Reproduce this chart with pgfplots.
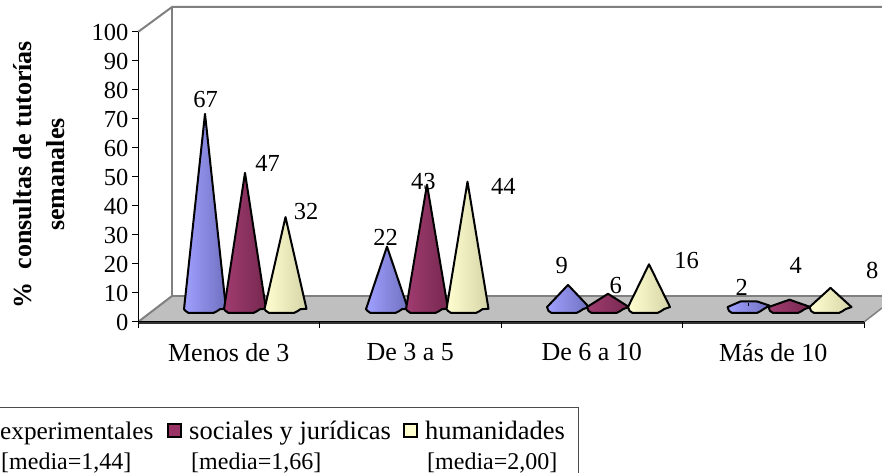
\documentclass[border=0pt]{standalone}
\usepackage{fontspec}
\setmainfont{Liberation Serif}
\usepackage{pgfplots}
\pgfplotsset{compat=1.18}
\definecolor{blueL}{HTML}{A0A0FF}\definecolor{blueM}{HTML}{9090F0}\definecolor{blueR}{HTML}{7070C0}
\definecolor{redL}{HTML}{A03C70}\definecolor{redM}{HTML}{993366}\definecolor{redR}{HTML}{762850}
\definecolor{yelL}{HTML}{FFFFD0}\definecolor{yelM}{HTML}{F4F4C4}\definecolor{yelR}{HTML}{D4D4A8}
\tikzset{
 bl/.style={draw=black,line width=2pt,line join=round,left color=blueL,middle color=blueM,right color=blueR},
 rd/.style={draw=black,line width=2pt,line join=round,left color=redL,middle color=redM,right color=redR},
 yl/.style={draw=black,line width=2pt,line join=round,left color=yelL,middle color=yelM,right color=yelR}}
\newcommand{\txt}{\fontsize{24.5}{24.5}\selectfont}
\newcommand{\leg}{\fontsize{26.5}{26.5}\selectfont}
\newcommand{\lega}{\fontsize{25.3}{25.3}\selectfont}
\newcommand{\legb}{\fontsize{24}{24}\selectfont}
\begin{document}
\begin{tikzpicture}
\useasboundingbox (0,0) rectangle (882pt,473pt);
% pixel canvas: walls, floor, legend
\begin{axis}[at={(0pt,0pt)},anchor=south west,scale only axis,width=882pt,height=473pt,
 xmin=0,xmax=882,ymin=0,ymax=473,y dir=reverse,hide axis,clip=false]
\addplot[draw=none,fill=white,forget plot] coordinates {(138,32)(172,7)(882,7)(882,296)(172,296)(138,322)} --cycle;
\addplot[fill=black!25,draw=none,forget plot] coordinates {(138,322)(172,296)(882,296)(882,308)(864,322)} --cycle;
\addplot[color=black!50,line width=2pt,forget plot] coordinates {(138,32)(172,7)(882,7)};
\addplot[color=black!50,line width=2pt,forget plot] coordinates {(172,7)(172,296)};
\addplot[color=black!50,line width=2pt,forget plot] coordinates {(138,322)(172,296)};
\addplot[color=black!50,line width=2.5pt,forget plot] coordinates {(172,296)(882,296)};
\addplot[color=black!50,line width=1.5pt,forget plot] coordinates {(864,322)(882,308)};
\addplot[color=black!80,line width=3pt,forget plot] coordinates {(138,322.5)(864,322.5)};
% legend
\addplot[color=black!70,line width=1pt,forget plot] coordinates {(-5,407)(578,407)(578,480)};
\addplot[fill=redM,draw=black,line width=1.6pt,forget plot] coordinates {(168,424)(181,424)(181,437)(168,437)} --cycle;
\addplot[fill=yelL,draw=black,line width=1.6pt,forget plot] coordinates {(404,424)(417,424)(417,437)(404,437)} --cycle;
\node[anchor=base west,inner sep=0pt,font=\lega] at (axis cs:0,439) {experimentales};
\node[anchor=base west,inner sep=0pt,font=\leg] at (axis cs:189,439) {sociales y jurídicas};
\node[anchor=base west,inner sep=0pt,font=\leg] at (axis cs:425,439) {humanidades};
\node[anchor=base west,inner sep=0pt,font=\legb] at (axis cs:1,469) {[media=1,44]};
\node[anchor=base west,inner sep=0pt,font=\legb] at (axis cs:191,469) {[media=1,66]};
\node[anchor=base west,inner sep=0pt,font=\legb] at (axis cs:427,469) {[media=2,00]};
\end{axis}
% value axis
\begin{axis}[at={(138pt,151pt)},anchor=south west,scale only axis,width=726pt,height=290pt,
 xmin=0,xmax=4,ymin=0,ymax=100,
 axis x line*=bottom,axis y line*=left,
 axis line style={black,line width=1pt},
 ytick={0,10,...,100},xtick={0,1,2,3,4},xticklabels={},
 extra x ticks={0.5,1.5,2.5,3.5},
 extra x tick labels={Menos de 3,De 3 a 5,De 6 a 10,Más de 10},
 extra x tick style={tick style={draw=none},tick label style={yshift=-12pt,font=\fontsize{26}{26}\selectfont}},
 tick style={black,line width=1pt},
 tick align=outside,major tick length=6pt,
 tick label style={font=\txt},
 /pgf/number format/assume math mode=true,
 ylabel={\%~~consultas de tutorías\\semanales},
 ylabel style={font=\fontsize{26}{33}\selectfont\bfseries,align=center,anchor=center,at={(axis description cs:-0.1357,0.5086)}},
 ]
\end{axis}
% cones: y in data values, x in canvas pixels
\begin{axis}[at={(0pt,0pt)},anchor=south west,scale only axis,width=882pt,height=473pt,
 xmin=0,xmax=882,ymin=-54.75,ymax=105.59,hide axis,clip=false]
\addplot[bl] coordinates {(205,67)(226,.9)(220,.8)(217,.1)(213.5,-.5)(188.5,-.5)(185.5,.2)(184,.8)} --cycle;
\addplot[rd] coordinates {(245,47)(266,.9)(260,.8)(257,.1)(253.5,-.5)(228.5,-.5)(225.5,.2)(224,.8)} --cycle;
\addplot[yl] coordinates {(285.5,32)(306.5,.9)(300.5,.8)(297.5,.1)(294,-.5)(269,-.5)(266,.2)(264.5,.8)} --cycle;
\addplot[bl] coordinates {(387,22)(408,.9)(402,.8)(399,.1)(395.5,-.5)(370.5,-.5)(367.5,.2)(366,.8)} --cycle;
\addplot[rd] coordinates {(427,43)(448,.9)(442,.8)(439,.1)(435.5,-.5)(410.5,-.5)(407.5,.2)(406,.8)} --cycle;
\addplot[yl] coordinates {(467.5,44)(488.5,.9)(482.5,.8)(479.5,.1)(476,-.5)(451,-.5)(448,.2)(446.5,.8)} --cycle;
\addplot[bl] coordinates {(568,9)(589,1.5)(583,.8)(580,.1)(576.5,-.5)(551.5,-.5)(548.5,.2)(547,1.5)} --cycle;
\addplot[rd] coordinates {(608,6)(629,1.5)(623,.8)(620,.1)(616.5,-.5)(591.5,-.5)(588.5,.2)(587,1.5)} --cycle;
\addplot[yl] coordinates {(649,16)(670,1.5)(664,.8)(661,.1)(657.5,-.5)(632.5,-.5)(629.5,.2)(628,1.5)} --cycle;
\addplot[bl] coordinates {(740.5,3.4)(757,3.4)(769.5,2)(763.5,.8)(760.5,.1)(757,-.5)(732,-.5)(729,.2)(727.5,1.5)} --cycle;
\addplot[black,line width=1pt] coordinates {(748.5,2)(748.5,2.8)};
\addplot[rd] coordinates {(789.5,4)(810.5,1.5)(804.5,.8)(801.5,.1)(798,-.5)(773,-.5)(770,.2)(768.5,1.5)} --cycle;
\addplot[yl] coordinates {(830.5,8)(851.5,1.5)(845.5,.8)(842.5,.1)(839,-.5)(814,-.5)(811,.2)(809.5,1.5)} --cycle;
\end{axis}
% data labels
\begin{axis}[at={(0pt,0pt)},anchor=south west,scale only axis,width=882pt,height=473pt,
 xmin=0,xmax=882,ymin=0,ymax=473,y dir=reverse,hide axis,clip=false,
 nodes near coords,every node near coord/.style={font=\txt,anchor=center,inner sep=0pt},
 point meta=explicit symbolic]
\addplot[draw=none,mark=none] coordinates {
 (205.7,100)[67] (267.7,163)[47] (306,211.7)[32]
 (385.7,237.7)[22] (423.3,181.7)[43] (503.3,186)[44]
 (561.7,265.7)[9] (615.7,286)[6] (686.7,260.7)[16]
 (741.7,287.7)[2] (795.7,265.7)[4] (872.3,270.7)[8]};
\end{axis}
\end{tikzpicture}
\end{document}
